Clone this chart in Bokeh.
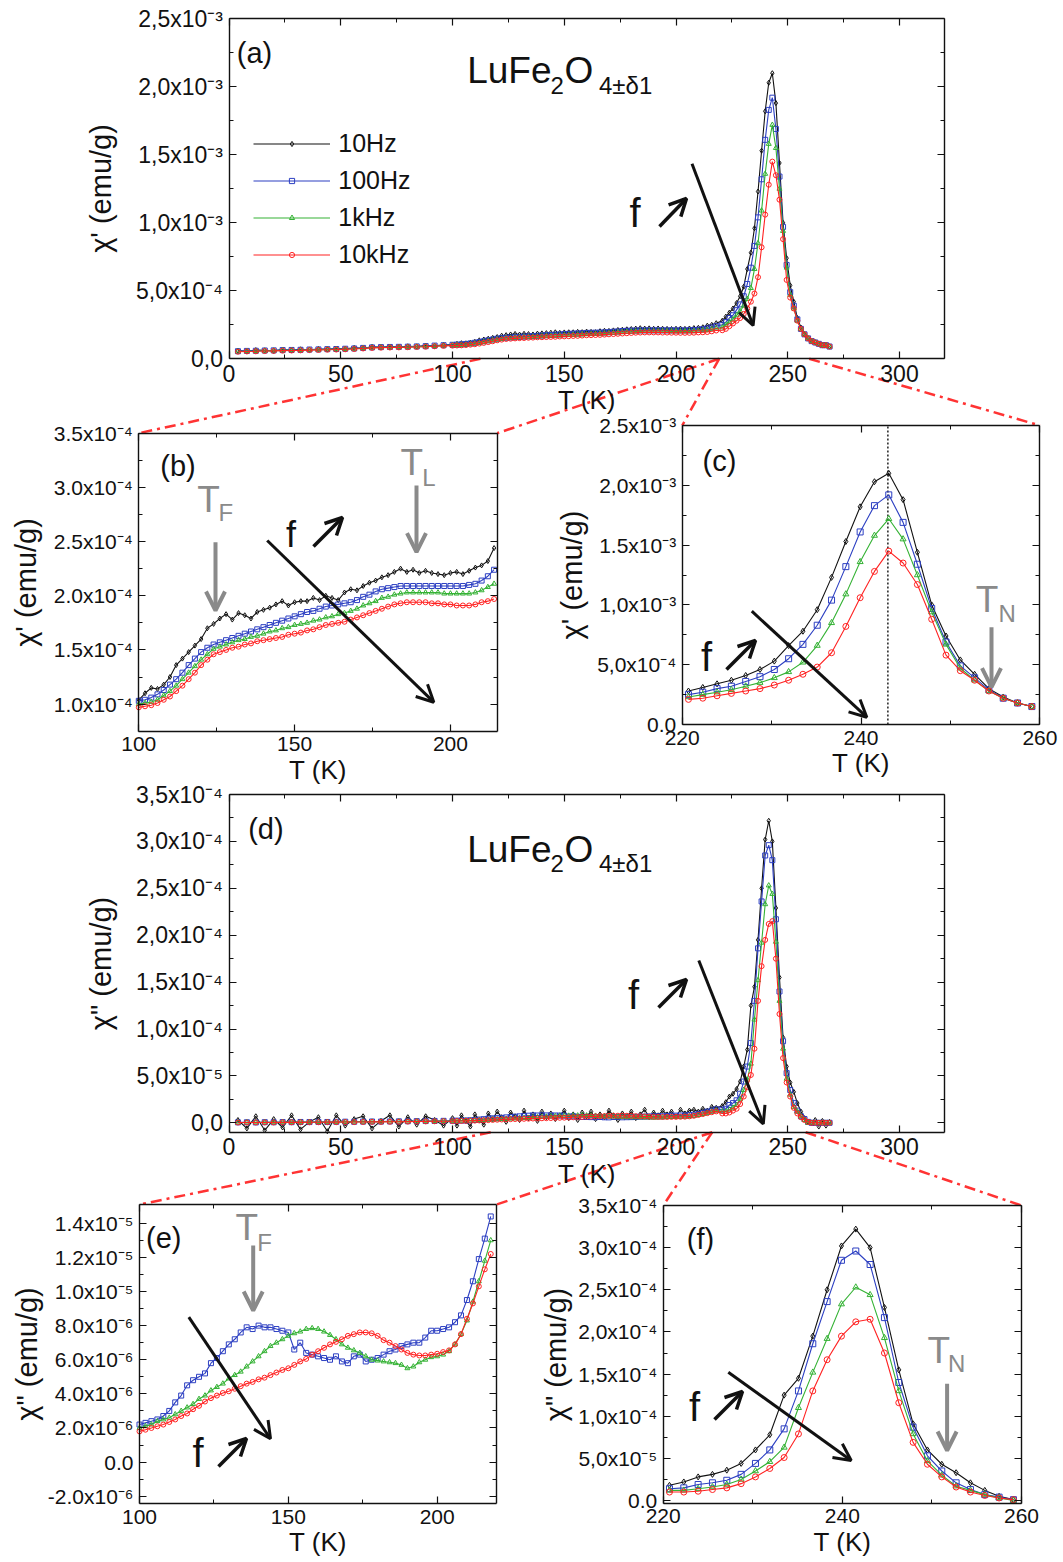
from bokeh.plotting import figure
from bokeh.models import (Range1d, LinearAxis, FixedTicker, CustomJSTickFormatter,
                          Label, Arrow, OpenHead, Legend, LegendItem, ColumnDataSource)
from bokeh.embed import file_html
from bokeh.resources import INLINE

# ------------------------------------------------------------------ data
# temperature grid (K), shared by all series
T_LOW = [4, 8, 12, 16, 20, 24, 28, 32, 36, 40, 44, 48, 52, 56, 60, 64, 68, 72, 76, 80, 84, 88, 92, 96]
T_MID = [100, 102, 104, 106, 108, 110, 112, 114, 116, 118, 120, 122, 124, 126, 128, 130, 132, 134, 136, 138,
         140, 142, 144, 146, 148, 150, 152, 154, 156, 158, 160, 162, 164, 166, 168, 170, 172, 174, 176, 178,
         180, 182, 184, 186, 188, 190, 192, 194, 196, 198, 200, 202, 204, 206, 208, 210, 212, 214, 216, 218]
T_PEAK = [220.7, 222.3, 223.9, 225.5, 227.1, 228.7, 230.3, 231.9, 233.5, 235.1, 236.7, 238.3, 239.9, 241.5,
          243.1, 244.7, 246.3, 247.9, 249.5, 251.1, 252.7, 254.3, 255.9, 257.5, 259.1, 260.7, 262.3, 263.9,
          265.5, 267.1, 268.7]

# chi' in units of 1e-4 emu/g
CHI1_10HZ = [0.60, 0.55, 0.64, 0.62, 0.58, 0.68, 0.63, 0.70, 0.66, 0.72, 0.69, 0.75, 0.73, 0.80, 0.78, 0.88, 0.84, 0.90, 0.86, 0.92, 0.90, 0.97, 0.95, 1.02,
             1.04, 1.10, 1.15, 1.14, 1.18, 1.25, 1.36, 1.42, 1.48, 1.54, 1.60, 1.70, 1.74, 1.79, 1.83, 1.78, 1.84, 1.82, 1.79, 1.85,
             1.87, 1.89, 1.92, 1.95, 1.91, 1.94, 1.95, 1.95, 1.98, 1.96, 2.00, 1.98, 1.96, 2.03, 2.06, 2.05, 2.09, 2.12, 2.14, 2.17,
             2.19, 2.22, 2.25, 2.22, 2.24, 2.21, 2.23, 2.21, 2.20, 2.19, 2.21, 2.22, 2.20, 2.23, 2.26, 2.28, 2.32, 2.44, 2.50, 2.62,
             2.8, 3.1, 3.4, 3.7, 4.1, 4.6, 5.3, 6.6, 7.8, 9.6, 12.3, 15.3, 18.2, 20.3, 21.0, 18.8, 14.4, 10.0, 7.4, 5.4, 4.2, 3.0, 2.3, 1.8, 1.5, 1.3, 1.2, 1.1, 1.0, 1.0, 0.9]
CHI1_100HZ = [0.56, 0.58, 0.59, 0.61, 0.62, 0.64, 0.65, 0.66, 0.68, 0.69, 0.71, 0.72, 0.74, 0.76, 0.80, 0.84, 0.86, 0.87, 0.88, 0.89, 0.91, 0.93, 0.97, 1.00,
              1.03, 1.04, 1.06, 1.09, 1.13, 1.18, 1.23, 1.29, 1.36, 1.42, 1.48, 1.52, 1.55, 1.57, 1.59, 1.61, 1.63, 1.65, 1.67, 1.69,
              1.71, 1.73, 1.75, 1.77, 1.79, 1.81, 1.83, 1.85, 1.86, 1.88, 1.90, 1.91, 1.92, 1.93, 1.94, 1.96, 1.99, 2.01, 2.04, 2.06,
              2.07, 2.08, 2.09, 2.09, 2.09, 2.09, 2.09, 2.09, 2.09, 2.09, 2.09, 2.09, 2.09, 2.10, 2.11, 2.14, 2.18, 2.24, 2.30, 2.40,
              2.5, 2.7, 3.0, 3.2, 3.6, 4.0, 4.6, 5.5, 6.7, 8.3, 10.4, 13.2, 16.1, 18.3, 19.2, 16.9, 13.4, 9.7, 6.9, 4.9, 3.9, 2.9, 2.2, 1.8, 1.5, 1.3, 1.2, 1.1, 1.0, 1.0, 0.9]
CHI1_1KHZ = [0.54, 0.56, 0.57, 0.59, 0.60, 0.62, 0.63, 0.64, 0.66, 0.67, 0.69, 0.70, 0.72, 0.74, 0.78, 0.82, 0.84, 0.85, 0.86, 0.87, 0.89, 0.91, 0.94, 0.97,
             1.00, 1.01, 1.02, 1.04, 1.08, 1.12, 1.17, 1.23, 1.29, 1.35, 1.41, 1.46, 1.51, 1.53, 1.55, 1.57, 1.59, 1.60, 1.62, 1.63,
             1.65, 1.67, 1.68, 1.70, 1.71, 1.73, 1.74, 1.75, 1.77, 1.78, 1.80, 1.81, 1.83, 1.84, 1.86, 1.88, 1.91, 1.93, 1.95, 1.98,
             1.99, 2.01, 2.02, 2.03, 2.03, 2.03, 2.03, 2.03, 2.03, 2.02, 2.02, 2.02, 2.02, 2.02, 2.03, 2.05, 2.08, 2.11, 2.17, 2.23,
             2.3, 2.5, 2.7, 2.9, 3.2, 3.5, 3.9, 4.4, 5.2, 6.6, 8.5, 10.9, 13.6, 15.8, 17.2, 15.5, 12.5, 9.4, 6.7, 4.7, 3.7, 2.8, 2.2, 1.8, 1.5, 1.3, 1.2, 1.1, 1.0, 1.0, 0.9]
CHI1_10KHZ = [0.52, 0.54, 0.55, 0.57, 0.58, 0.60, 0.61, 0.62, 0.64, 0.65, 0.67, 0.68, 0.70, 0.72, 0.76, 0.80, 0.82, 0.83, 0.84, 0.85, 0.87, 0.89, 0.92, 0.95,
              0.97, 0.98, 0.99, 1.01, 1.04, 1.07, 1.12, 1.17, 1.23, 1.29, 1.36, 1.41, 1.46, 1.48, 1.50, 1.52, 1.53, 1.55, 1.56, 1.58,
              1.59, 1.60, 1.61, 1.62, 1.64, 1.65, 1.66, 1.68, 1.69, 1.71, 1.73, 1.74, 1.75, 1.76, 1.78, 1.80, 1.82, 1.84, 1.86, 1.88,
              1.90, 1.92, 1.93, 1.94, 1.94, 1.94, 1.94, 1.93, 1.93, 1.92, 1.92, 1.91, 1.91, 1.91, 1.92, 1.94, 1.95, 1.97, 2.02, 2.08,
              2.1, 2.2, 2.4, 2.6, 2.8, 3.0, 3.3, 3.7, 4.2, 4.8, 6.0, 8.2, 10.6, 12.8, 14.5, 13.5, 11.7, 8.8, 5.8, 4.5, 3.7, 2.8, 2.2, 1.8, 1.5, 1.3, 1.2, 1.1, 1.0, 1.0, 0.9]

# chi'' in units of 1e-6 emu/g
CHI2_10HZ = [3, -6, 7, -8, 4, -5, 8, -7, 1, 6, -9, 8, -3, 4, 7, -6, 2, 8, -4, 6, -2, 7, 3, -3,
             5, -3, 8, 2, -4, 9, 3, -2, 10, 4, 12, 6, 1, 11, 7, 3, 13, 5, 9, 2,
             12, 6, 10, 4, 8, 13, 5, 9, 3, 11, 7, 12, 4, 9, 6, 13, 8, 3, 10, 7,
             12, 5, 9, 14, 6, 11, 8, 13, 9, 12, 7, 14, 10, 13, 14, 12, 15, 13, 17, 16,
             18, 22, 28, 31, 36, 44, 60, 78, 125, 145, 195, 250, 302, 322, 300, 229, 155, 91, 60, 43, 33, 21, 12, 5, 1, 0, 3, -4, 2, -3, 1]
CHI2_100HZ = [0.5, 0.6, 0.4, 0.7, 0.6, 0.8, 0.7, 0.9, 0.8, 1.0, 0.9, 1.1, 1.2, 1.1, 1.3, 1.4, 1.3, 1.5, 1.6, 1.7, 1.8, 1.9, 2.0, 2.1,
              2.2, 2.3, 2.4, 2.5, 2.7, 3.0, 3.5, 3.9, 4.5, 4.8, 5.0, 5.2, 5.8, 6.1, 6.5, 6.9, 7.2, 7.6, 7.9, 7.8,
              8.0, 7.9, 7.9, 7.8, 7.7, 7.6, 6.6, 7.0, 6.4, 6.3, 6.2, 6.1, 6.0, 6.2, 5.9, 5.8, 6.2, 6.3, 5.9, 6.0,
              6.1, 6.3, 6.5, 6.6, 6.8, 6.9, 7.0, 7.0, 7.3, 7.7, 7.7, 7.8, 7.9, 8.2, 8.6, 9.5, 10.6, 11.9, 13.1, 14.4,
              14, 15, 19, 21, 24, 31, 44, 60, 85, 130, 186, 236, 285, 296, 280, 217, 140, 87, 53, 35, 21, 13, 7, 4, 1, 0, 0, 0, 0, 0, 0]
CHI2_1KHZ = [0.4, 0.4, 0.5, 0.5, 0.6, 0.6, 0.7, 0.7, 0.8, 0.8, 0.9, 0.9, 1.0, 1.1, 1.1, 1.2, 1.3, 1.4, 1.4, 1.5, 1.6, 1.7, 1.8, 1.9,
             2.0, 2.1, 2.2, 2.4, 2.5, 2.6, 2.8, 3.0, 3.2, 3.4, 3.7, 3.9, 4.2, 4.4, 4.6, 4.9, 5.1, 5.3, 5.6, 5.9,
             6.2, 6.5, 6.8, 7.0, 7.2, 7.4, 7.55, 7.65, 7.8, 7.85, 7.8, 7.65, 7.45, 7.2, 6.9, 6.7, 6.55, 6.4, 6.2, 6.0,
             5.95, 5.9, 5.85, 5.8, 5.7, 5.5, 5.6, 5.85, 6.0, 6.15, 6.2, 6.3, 6.5, 6.9, 7.5, 8.3, 9.4, 10.6, 11.8, 13.0,
             12, 12, 14, 16, 19, 25, 35, 46, 63, 110, 152, 192, 233, 253, 244, 193, 130, 79, 47, 30, 17, 12, 7, 3, 0, 0, 0, 0, 0, 0, 0]
CHI2_10KHZ = [0.3, 0.3, 0.4, 0.4, 0.4, 0.5, 0.5, 0.5, 0.6, 0.6, 0.7, 0.7, 0.8, 0.8, 0.9, 1.0, 1.0, 1.1, 1.2, 1.3, 1.4, 1.5, 1.6, 1.7,
              1.8, 1.9, 2.0, 2.1, 2.2, 2.35, 2.5, 2.7, 2.85, 3.1, 3.3, 3.55, 3.75, 3.9, 4.05, 4.15, 4.3, 4.45, 4.6, 4.7,
              4.85, 4.95, 5.1, 5.25, 5.4, 5.5, 5.7, 5.9, 6.05, 6.3, 6.5, 6.7, 6.9, 7.05, 7.2, 7.4, 7.5, 7.6, 7.6, 7.55,
              7.4, 7.15, 7.0, 6.8, 6.6, 6.4, 6.3, 6.25, 6.25, 6.3, 6.35, 6.45, 6.55, 6.9, 7.5, 8.4, 9.3, 10.3, 11.3, 12.2,
              10, 10, 11, 13, 15, 20, 28, 38, 51, 79, 130, 167, 195, 212, 215, 175, 116, 69, 43, 28, 16, 10, 6, 3, 1, 0, 0, 0, 0, 0, 0]

SERIES = ["10Hz", "100Hz", "1kHz", "10kHz"]
CHI1 = [CHI1_10HZ, CHI1_100HZ, CHI1_1KHZ, CHI1_10KHZ]
CHI2 = [CHI2_10HZ, CHI2_100HZ, CHI2_1KHZ, CHI2_10KHZ]
T_MAX_CHI1 = 243.0          # dotted line in (c)

# tick values and labels
XT_WIDE = [0, 50, 100, 150, 200, 250, 300]
XL_WIDE = ["0", "50", "100", "150", "200", "250", "300"]
XM_WIDE = [25, 75, 125, 175, 225, 275]
XT_LOW = [100, 150, 200]
XL_LOW = ["100", "150", "200"]
XM_LOW = [125, 175]
XT_PK = [220, 240, 260]
XL_PK = ["220", "240", "260"]
XM_PK = [230, 250]
YT_A = [0, 5e-4, 1e-3, 1.5e-3, 2e-3, 2.5e-3]
YL_A = ["0,0", "5,0x10⁻⁴", "1,0x10⁻³", "1,5x10⁻³", "2,0x10⁻³", "2,5x10⁻³"]
YM_A = [2.5e-4, 7.5e-4, 1.25e-3, 1.75e-3, 2.25e-3]
YT_B = [1.0e-4, 1.5e-4, 2.0e-4, 2.5e-4, 3.0e-4, 3.5e-4]
YL_B = ["1.0x10⁻⁴", "1.5x10⁻⁴", "2.0x10⁻⁴", "2.5x10⁻⁴", "3.0x10⁻⁴", "3.5x10⁻⁴"]
YM_B = [1.25e-4, 1.75e-4, 2.25e-4, 2.75e-4, 3.25e-4]
YL_C = ["0.0", "5,0x10⁻⁴", "1,0x10⁻³", "1.5x10⁻³", "2,0x10⁻³", "2.5x10⁻³"]
YT_D = [0, 5e-5, 1e-4, 1.5e-4, 2e-4, 2.5e-4, 3e-4, 3.5e-4]
YL_D = ["0,0", "5,0x10⁻⁵", "1,0x10⁻⁴", "1,5x10⁻⁴", "2,0x10⁻⁴", "2,5x10⁻⁴", "3,0x10⁻⁴", "3,5x10⁻⁴"]
YM_D = [2.5e-5, 7.5e-5, 1.25e-4, 1.75e-4, 2.25e-4, 2.75e-4, 3.25e-4]
YT_E = [-2e-6, 0, 2e-6, 4e-6, 6e-6, 8e-6, 1e-5, 1.2e-5, 1.4e-5]
YL_E = ["-2.0x10⁻⁶", "0.0", "2.0x10⁻⁶", "4.0x10⁻⁶", "6.0x10⁻⁶", "8.0x10⁻⁶", "1.0x10⁻⁵", "1.2x10⁻⁵", "1.4x10⁻⁵"]
YM_E = [-1e-6, 1e-6, 3e-6, 5e-6, 7e-6, 9e-6, 1.1e-5, 1.3e-5]
YL_F = ["0.0", "5,0x10⁻⁵", "1,0x10⁻⁴", "1,5x10⁻⁴", "2,0x10⁻⁴", "2,5x10⁻⁴", "3,0x10⁻⁴", "3,5x10⁻⁴"]

# zoom windows marked on the wide panels (T values on their axes)
ZOOM_A = [112.5, 219.3, 259.6]
ZOOM_D = [117.1, 216.2, 258.0]

# ------------------------------------------------------------------ layout
W, H, M = 1061, 1560, 0
FONT = "Liberation Sans"
COLORS = ["#111111", "#2c3fc2", "#34b234", "#ff2222"]
MARKERS = ["diamond", "square", "triangle", "circle"]

PAN = {
    "a": dict(xr=(0.0, 320.0), yr=(0.0, 2.5e-3), px=(228.5, 943.7), py=(358.3, 18.3)),
    "b": dict(xr=(100.0, 215.0), yr=(0.75e-4, 3.5e-4), px=(138.3, 496.7), py=(730.7, 432.7)),
    "c": dict(xr=(220.0, 260.0), yr=(0.0, 2.5e-3), px=(681.7, 1039.4), py=(724.0, 425.0)),
    "d": dict(xr=(0.0, 320.0), yr=(-1.0e-5, 3.5e-4), px=(228.5, 943.7), py=(1131.7, 794.0)),
    "e": dict(xr=(100.0, 220.0), yr=(-2.45e-6, 1.51e-5), px=(139.0, 496.2), py=(1503.4, 1204.0)),
    "f": dict(xr=(220.0, 260.0), yr=(-3.2e-6, 3.5e-4), px=(662.7, 1021.0), py=(1502.7, 1205.0)),
}

p = figure(width=W, height=H, output_backend="svg", toolbar_location=None,
           x_range=Range1d(M, M + W), y_range=Range1d(M + H, M),
           x_axis_type=None, y_axis_type=None, min_border=0,
           outline_line_color=None, background_fill_color="white", border_fill_color="white")

exr, eyr = {}, {}
for name, d in PAN.items():
    (x0, x1), (y0, y1) = d["xr"], d["yr"]
    (px0, px1), (py0, py1) = d["px"], d["py"]
    kx = (px1 - px0) / (x1 - x0)
    xs = x0 - (px0 - M) / kx
    exr[name + "x"] = Range1d(xs, xs + W / kx)
    ky = (py0 - py1) / (y1 - y0)
    ys = y0 - (M + H - py0) / ky
    eyr[name + "y"] = Range1d(ys, ys + H / ky)
p.extra_x_ranges = exr
p.extra_y_ranges = eyr


def pg(name, x, y):
    d = PAN[name]
    (x0, x1), (y0, y1) = d["xr"], d["yr"]
    (px0, px1), (py0, py1) = d["px"], d["py"]
    return (px0 + (x - x0) * (px1 - px0) / (x1 - x0),
            py0 - (y - y0) * (py0 - py1) / (y1 - y0))


JS = """
let b = 0, d = Infinity;
for (let j = 0; j < v.length; j++) { const e = Math.abs(v[j] - tick); if (e < d) { d = e; b = j; } }
return s[b];
"""
BLANK = CustomJSTickFormatter(code="return '';")


def fmt(vals, labs):
    return CustomJSTickFormatter(args=dict(v=list(vals), s=list(labs)), code=JS)


def axes(name, xt, xl, xm, yt, yl, ym, ylab, fs, ystand):
    (x0, x1), (y0, y1) = PAN[name]["xr"], PAN[name]["yr"]
    base = dict(x_range_name=name + "x", y_range_name=name + "y",
                axis_line_color="#111111", axis_line_width=1.4,
                major_tick_in=7, major_tick_out=0, minor_tick_in=4, minor_tick_out=0,
                major_tick_line_color="#111111", minor_tick_line_color="#111111",
                major_tick_line_width=1.2, minor_tick_line_width=1.0,
                major_label_text_font=FONT, major_label_text_font_size=f"{fs}px",
                major_label_text_color="#111111", major_label_standoff=6,
                axis_label_text_font=FONT, axis_label_text_font_style="normal",
                axis_label_text_color="#111111")
    p.add_layout(LinearAxis(fixed_location=y0, bounds=(x0, x1),
                            ticker=FixedTicker(ticks=xt, minor_ticks=xm), formatter=fmt(xt, xl),
                            axis_label="T (K)", axis_label_text_font_size="26px",
                            axis_label_standoff=0, **base), "below")
    p.add_layout(LinearAxis(fixed_location=y1, bounds=(x0, x1),
                            ticker=FixedTicker(ticks=xt, minor_ticks=xm), formatter=BLANK, **base), "above")
    p.add_layout(LinearAxis(fixed_location=x0, bounds=(y0, y1),
                            ticker=FixedTicker(ticks=yt, minor_ticks=ym), formatter=fmt(yt, yl),
                            axis_label=ylab, axis_label_text_font_size="29px",
                            axis_label_standoff=ystand, **base), "left")
    p.add_layout(LinearAxis(fixed_location=x1, bounds=(y0, y1),
                            ticker=FixedTicker(ticks=yt, minor_ticks=ym), formatter=BLANK, **base), "right")


CH1 = "χ' (emu/g)"
CH2 = 'χ" (emu/g)'
axes("a", XT_WIDE, XL_WIDE, XM_WIDE, YT_A, YL_A, YM_A, CH1, 23, 17)
axes("b", XT_LOW, XL_LOW, XM_LOW, YT_B, YL_B, YM_B, CH1, 21, 8)
axes("c", XT_PK, XL_PK, XM_PK, YT_A, YL_C, YM_A, CH1, 21, 6)
axes("d", XT_WIDE, XL_WIDE, XM_WIDE, YT_D, YL_D, YM_D, CH2, 23, 17)
axes("e", XT_LOW, XL_LOW, XM_LOW, YT_E, YL_E, YM_E, CH2, 21, 2)
axes("f", XT_PK, XL_PK, XM_PK, YT_D, YL_F, YM_D, CH2, 21, 3)

# red dash-dot zoom connectors
RED = "#ff3333"


def connector(big, small, t_axis, corner):
    bx, by = pg(big, t_axis, PAN[big]["yr"][0])
    cx = PAN[small]["xr"][0 if corner == "left" else 1]
    sx, sy = pg(small, cx, PAN[small]["yr"][1])
    p.line([bx, sx], [by, sy], line_color=RED, line_width=2.5, line_dash="11 5 3 5")


connector("a", "b", ZOOM_A[0], "left")
connector("a", "b", ZOOM_A[1], "right")
connector("a", "c", ZOOM_A[1], "left")
connector("a", "c", ZOOM_A[2], "right")
connector("d", "e", ZOOM_D[0], "left")
connector("d", "e", ZOOM_D[1], "right")
connector("d", "f", ZOOM_D[1], "left")
connector("d", "f", ZOOM_D[2], "right")

T_ALL = T_LOW + T_MID + T_PEAK


def plot_panel(name, data, unit, size, skip=()):
    x0, x1 = PAN[name]["xr"]
    out = []
    for i, (lab, ys) in enumerate(zip(SERIES, data)):
        if lab in skip:
            out.append(None)
            continue
        pts = [(t, v * unit) for t, v in zip(T_ALL, ys) if x0 <= t <= x1]
        src = ColumnDataSource(dict(x=[q[0] for q in pts], y=[q[1] for q in pts]))
        kw = dict(source=src, x_range_name=name + "x", y_range_name=name + "y")
        lr = p.line("x", "y", line_color=COLORS[i], line_width=1.1, **kw)
        sr = p.scatter("x", "y", marker=MARKERS[i], size=size, fill_color=None,
                       line_color=COLORS[i], line_width=1.0, **kw)
        out.append((lr, sr))
    return out


# vertical dotted line at the chi' maximum in (c)
p.line([T_MAX_CHI1, T_MAX_CHI1], list(PAN["c"]["yr"]), x_range_name="cx", y_range_name="cy",
       line_color="#222222", line_width=1.5, line_dash="2 2")

ra = plot_panel("a", CHI1, 1e-4, 5)
plot_panel("b", CHI1, 1e-4, 5)
plot_panel("c", CHI1, 1e-4, 6)
plot_panel("d", CHI2, 1e-6, 5)
plot_panel("e", CHI2, 1e-6, 5, skip=("10Hz",))
plot_panel("f", CHI2, 1e-6, 6)

legend = Legend(items=[LegendItem(label=lab, renderers=list(r)) for lab, r in zip(SERIES, ra)],
                location=(253.3 - M, (M + H) - 272.8), orientation="vertical",
                glyph_width=77, glyph_height=13, label_height=37, spacing=0, padding=0, margin=0,
                label_standoff=8, label_text_font=FONT, label_text_font_size="25px",
                label_text_color="#111111", border_line_alpha=0, background_fill_alpha=0)
p.add_layout(legend)


# ------------------------------------------------------------------ annotations
def txt(x, base, s, size, color="#111111", align="left"):
    # anchor given as the text baseline; placed via the em-box middle
    p.add_layout(Label(x=x, y=base - 0.35 * size, text=s, text_font=FONT, text_font_size=f"{size}px",
                       text_color=color, text_align=align, text_baseline="middle"))


def arrow(x0, y0, x1, y1, color, width, head=17):
    p.add_layout(Arrow(x_start=x0, y_start=y0, x_end=x1, y_end=y1, line_color=color, line_width=width,
                       end=OpenHead(size=head, line_color=color, line_width=width)))


GRAY = "#8a8a8a"
# panel letters (given by their centres)
for s, x, y in [("(a)", 254, 52), ("(b)", 177.5, 465), ("(c)", 719, 460.5),
                ("(d)", 265.4, 828.3), ("(e)", 163.3, 1237.7), ("(f)", 700, 1238.3)]:
    p.add_layout(Label(x=x, y=y, text=s, text_font=FONT, text_font_size="29px", text_color="#111111",
                       text_align="center", text_baseline="middle"))

# compound formula
for base_y in (83.3, 861.7):
    txt(466.7, base_y, "LuFe", 37)
    txt(550.0, base_y + 10, "2", 24)
    txt(564.0, base_y, "O", 37)
    txt(598.5, base_y + 10, "4±δ1", 24)

# "f ↗" markers: letter + small diagonal arrow
for fx, fy, fs, ax0, ay0, ax1, ay1 in [(629, 226.7, 40, 659, 226, 686, 198),
                                        (285.5, 546.7, 36, 313, 546, 342, 517),
                                        (700.5, 670, 40, 726, 669, 755, 640),
                                        (627.5, 1008.3, 40, 658, 1007, 686, 979),
                                        (192, 1466.7, 40, 218, 1466, 246, 1438),
                                        (688.5, 1420, 40, 714, 1419, 742, 1391)]:
    txt(fx, fy, "f", fs)
    arrow(ax0, ay0, ax1, ay1, "#111111", 3.5, head=17)

# black frequency arrows
for a in [(691.5, 163.3, 752.6, 325), (266.7, 540, 433.3, 701.7), (751.3, 610.7, 866.3, 716.7),
          (698.3, 960, 762.8, 1123.3), (188.3, 1316.7, 270, 1438.3), (727.8, 1371.7, 850.7, 1460)]:
    arrow(*a, "#111111", 3)

# gray transition markers
for (tx, ty, sub, sx, sy) in [(196.7, 511.7, "F", 218, 520), (400, 475, "L", 421.7, 485),
                              (975.3, 611.7, "N", 998, 621.7), (235, 1240, "F", 256.7, 1250),
                              (926.9, 1363, "N", 947.6, 1371.7)]:
    txt(tx, ty, "T", 37, color=GRAY)
    txt(sx, sy, sub, 24, color=GRAY)
for a in [(215, 541.7, 215, 610), (416, 485, 416, 551.7), (991, 626.7, 991, 686.7),
          (252.7, 1245, 252.7, 1310), (946.6, 1383.3, 946.6, 1450)]:
    arrow(*a, GRAY, 4, head=19)

open("out.html", "w").write(file_html(p, INLINE))
